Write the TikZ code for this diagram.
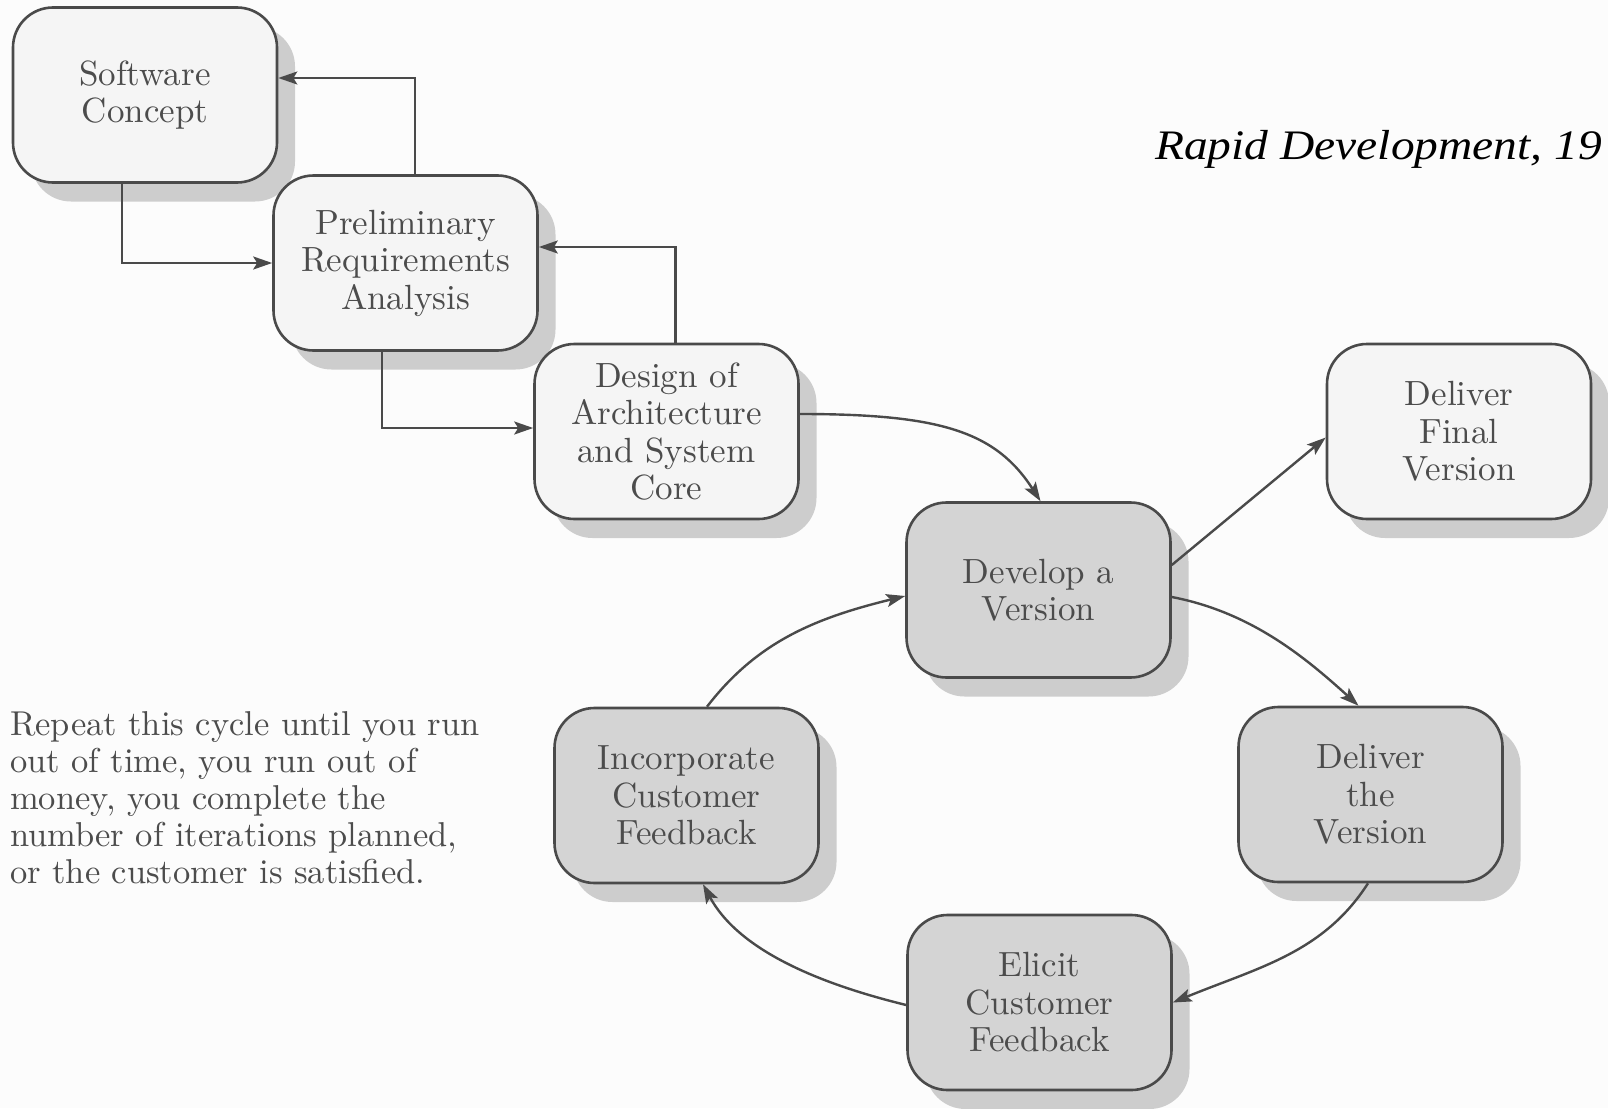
\documentclass[tikz,border=0pt]{standalone}
\usepackage{fontspec}
\setmainfont{lmroman10-regular.otf}
\newfontfamily\titlefont{Liberation Serif}
\usetikzlibrary{arrows.meta,shadows,calc}

\definecolor{ink}{HTML}{4C4C4C}
\definecolor{edge}{HTML}{4A4A4A}
\definecolor{paper}{HTML}{FCFCFC}
\definecolor{lightfill}{HTML}{F5F5F5}
\definecolor{darkfill}{HTML}{D4D4D4}
\definecolor{shade}{HTML}{CDCDCD}

\tikzset{
  box/.style={draw=edge, line width=2.6pt, rounded corners=40pt,
    minimum width=264pt, minimum height=175pt, align=center, text=ink,
    font=\fontsize{35}{37.5}\selectfont,
    drop shadow={shadow xshift=18pt, shadow yshift=-19pt, fill=shade, opacity=1}},
  early/.style={box, fill=lightfill},
  loopbox/.style={box, fill=darkfill},
  link/.style={draw=edge, line width=2.4pt,
    -{Stealth[length=19pt,width=13pt,inset=4pt]}},
}

\begin{document}
\begin{tikzpicture}[x=1pt,y=-1pt]
  % page
  \fill[paper] (0,0) rectangle (1608,1108);
  \useasboundingbox (0,0) rectangle (1608,1108);

  % up-front stages
  \node[early] (sc)  at (145,95)      {Software\\Concept};
  \node[early] (pra) at (405.5,263)   {Preliminary\\Requirements\\Analysis};
  \node[early] (dac) at (666.5,431.5) {Design of\\Architecture\\and System\\Core};

  % iterative cycle
  \node[loopbox] (dev) at (1038.5,590)  {Develop a\\Version};
  \node[early]   (dfv) at (1459,431.5)  {Deliver\\Final\\Version};
  \node[loopbox] (dtv) at (1370.5,794.5) {Deliver\\the\\Version};
  \node[loopbox] (ecf) at (1039.5,1002.5) {Elicit\\Customer\\Feedback};
  \node[loopbox] (icf) at (686.5,795.5) {Incorporate\\Customer\\Feedback};

  % staircase connectors
  \draw[link] ([xshift=-23pt]sc.south) |- (pra.west);
  \draw[link] ([xshift=9.5pt]pra.north) |- ([yshift=17pt]sc.east);
  \draw[link] ([xshift=-23.5pt]pra.south) |- ([yshift=3.5pt]dac.west);
  \draw[link] ([xshift=9pt]dac.north) |- ([yshift=16pt]pra.east);

  % into and around the cycle
  \draw[link] ([yshift=17.5pt]dac.east) .. controls +(140,0) and +(-45,-70) .. ([xshift=2pt]dev.north);
  \draw[link] ([yshift=25pt]dev.east) -- ([yshift=-6pt]dfv.west);
  \draw[link] ([yshift=-7pt]dev.east) .. controls +(78,15) and +(-55,-50) .. ([xshift=-12pt]dtv.north);
  \draw[link] ([xshift=-2.5pt]dtv.south) .. controls +(-45,70) and +(85,-35) .. (ecf.east);
  \draw[link] ([yshift=-2.5pt]ecf.west) .. controls +(-90,-22) and +(35,65) .. ([xshift=16.5pt]icf.south);
  \draw[link] ([xshift=20.5pt]icf.north) .. controls +(50,-65) and +(-90,22) .. ([yshift=-6pt]dev.west);

  % source line
  \node[anchor=base west, inner sep=0,
        font=\titlefont\itshape\fontsize{42}{42}\selectfont] (title)
        at (1155,159) {\scalebox{1.13}[1]{Rapid Development, 19}};

  % stopping rule
  \node[anchor=north west, inner sep=0, align=left, text=ink,
        font=\fontsize{34.5}{37.2}\selectfont] (note) at (10,711)
        {Repeat this cycle until you run\\out of time, you run out of\\money, you complete the\\number of iterations planned,\\or the customer is satisfied.};
\end{tikzpicture}
\end{document}
